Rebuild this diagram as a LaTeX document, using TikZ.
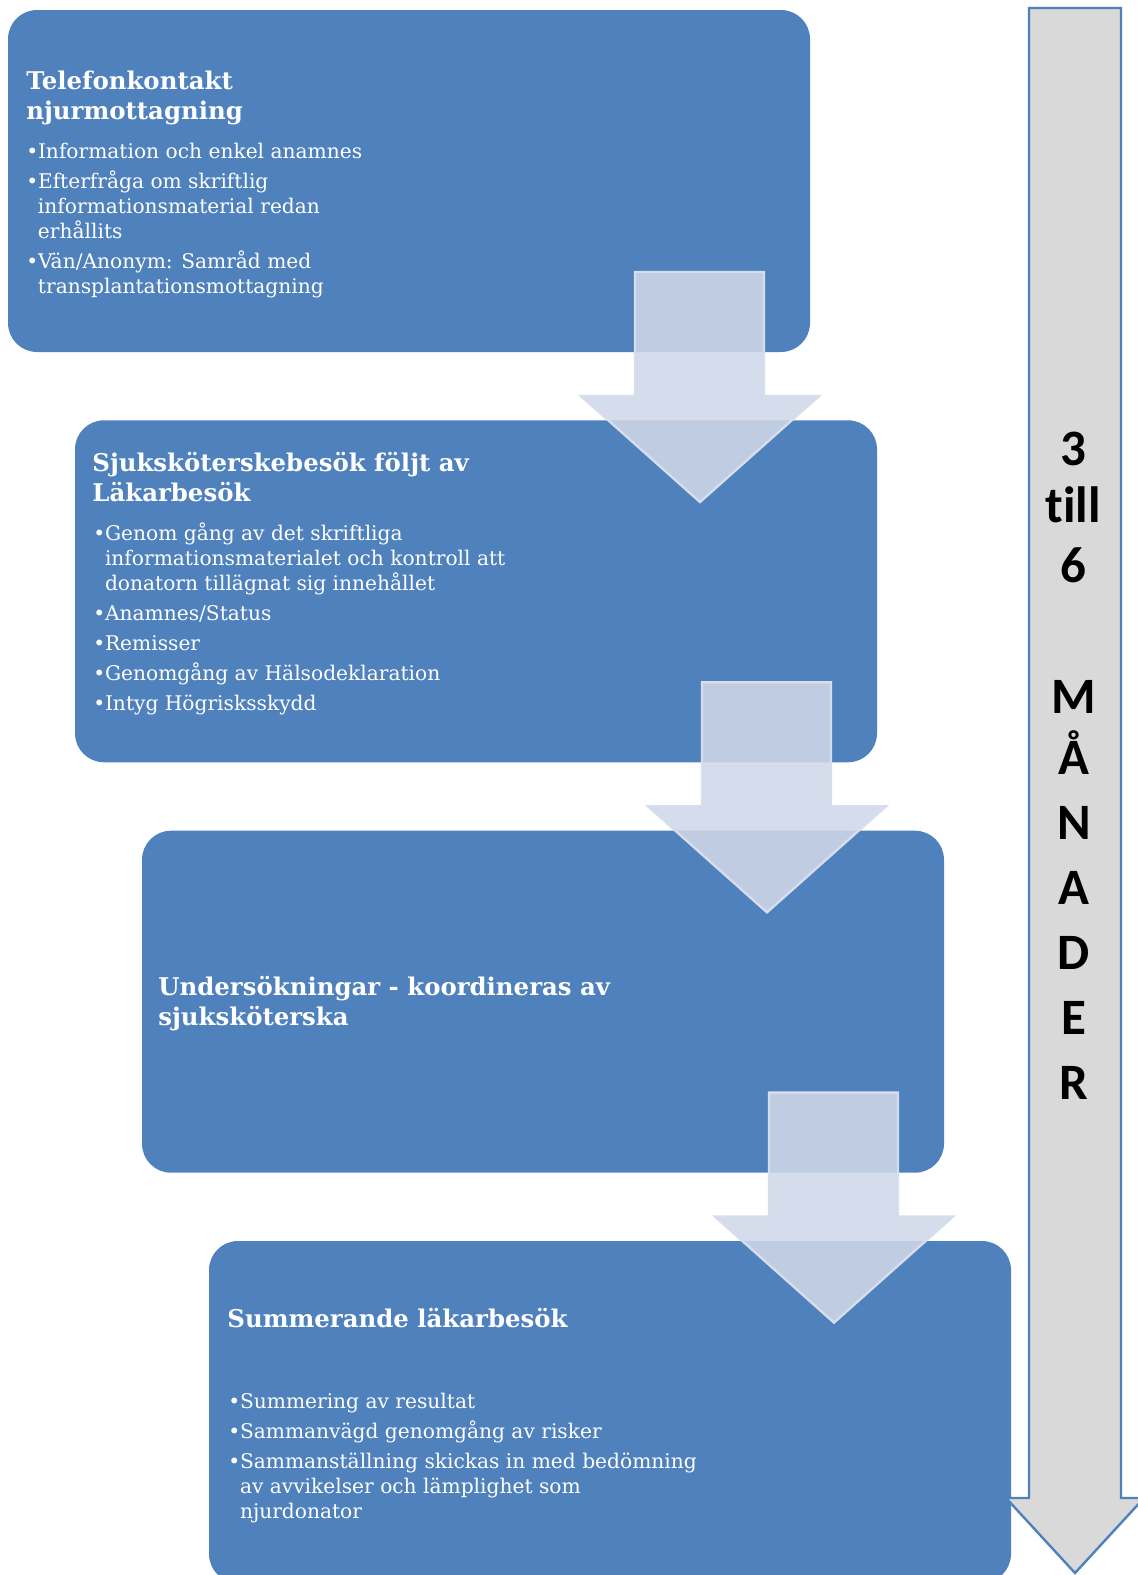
\documentclass[tikz,border=0pt]{standalone}
\usepackage{fontspec}
\setmainfont{DejaVu Serif}
\newfontfamily\calfont[Ligatures=NoCommon]{Carlito}
\usetikzlibrary{positioning}
\definecolor{boxblue}{HTML}{4F81BD}
\definecolor{flowfill}{HTML}{CFD7E8}
\definecolor{flowline}{HTML}{D6DDEB}
\definecolor{timegray}{HTML}{D9D9D9}
\newcommand{\bul}{\makebox[5.8pt][l]{\textbullet}}
\newcommand{\cont}{\hspace*{5.8pt}}

\begin{document}
\begin{tikzpicture}[x=0.5pt,y=-0.5pt,
    stage/.style={fill=boxblue, rounded corners=14.5pt},
    flow/.style={fill=flowfill, fill opacity=0.88, draw=flowline, line width=1.2pt},
    title/.style={anchor=base west, inner sep=0pt, text=white, font=\fontsize{12.2}{15.3}\selectfont\bfseries},
    list/.style={anchor=base west, inner sep=0pt, text=white, font=\fontsize{10.1}{12.5}\selectfont},
    month/.style={anchor=base, inner sep=0pt, font=\calfont\bfseries\fontsize{25.5}{30}\selectfont}]
    \useasboundingbox (0,0) rectangle (1138,1575);
    \clip (0,0) rectangle (1138,1575);
    % the four stages
    \fill[stage] (8,10) rectangle (810,352);
    \fill[stage] (75,420.3) rectangle (877,762.3);
    \fill[stage] (142,830.7) rectangle (944,1172.7);
    \fill[stage] (209,1241) rectangle (1011,1583);
    \node[title] (t1) at (26,89) {\parbox[t]{300pt}{Telefonkontakt\\njurmottagning}};
    \node[list] (l1) at (26,158) {\parbox[t]{360pt}{\raggedright
        \bul Information och enkel anamnes\\[2.5pt]
        \bul Efterfråga om skriftlig\\\cont informationsmaterial redan\\\cont erhållits\\[2.5pt]
        \bul Vän/Anonym: Samråd med\\\cont transplantationsmottagning}};
    \node[title] (t2) at (92,471) {\parbox[t]{360pt}{Sjuksköterskebesök följt av\\Läkarbesök}};
    \node[list] (l2) at (93,540) {\parbox[t]{360pt}{\raggedright
        \bul Genom gång av det skriftliga\\\cont informationsmaterialet och kontroll att\\\cont donatorn tillägnat sig innehållet\\[2.5pt]
        \bul Anamnes/Status\\[2.5pt]
        \bul Remisser\\[2.5pt]
        \bul Genomgång av Hälsodeklaration\\[2.5pt]
        \bul Intyg Högrisksskydd}};
    \node[title] (t3) at (158,995) {\parbox[t]{360pt}{Undersökningar - koordineras av\\sjuksköterska}};
    \node[title] (t4) at (227,1327) {Summerande läkarbesök};
    \node[list] (l4) at (228,1408) {\parbox[t]{360pt}{\raggedright
        \bul Summering av resultat\\[2.5pt]
        \bul Sammanvägd genomgång av risker\\[2.5pt]
        \bul Sammanställning skickas in med bedömning\\\cont av avvikelser och lämplighet som\\\cont njurdonator}};
    % arrows between the stages
    \filldraw[flow] (635,272) -- (764,272) -- (764,396) -- (819,396) -- (700,502) -- (581,396) -- (635,396) -- cycle;
    \filldraw[flow] (702,682.3) -- (831,682.3) -- (831,806.3) -- (886,806.3) -- (767,912.3) -- (648,806.3) -- (702,806.3) -- cycle;
    \filldraw[flow] (769,1092.6) -- (898,1092.6) -- (898,1216.6) -- (953,1216.6) -- (834,1322.6) -- (715,1216.6) -- (769,1216.6) -- cycle;
    % time line
    \filldraw[fill=timegray, draw=boxblue, line width=1.2pt] (1029,8) -- (1121,8) -- (1121,1498) -- (1144,1498)
        -- (1075,1573) -- (1006,1498) -- (1029,1498) -- cycle;
    \node[month] (n3) at (1073,465) {3};
    \node[month] (till) at (1073,522) {till};
    \node[month] (n6) at (1073,582) {6};
    \node[month] (mM) at (1074,713) {M};
    \node[month] (mA) at (1074,774) {Å};
    \node[month] (mN) at (1074,839) {N};
    \node[month] (mA2) at (1074,904) {A};
    \node[month] (mD) at (1074,969) {D};
    \node[month] (mE) at (1074,1034) {E};
    \node[month] (mR) at (1074,1099) {R};
\end{tikzpicture}
\end{document}
